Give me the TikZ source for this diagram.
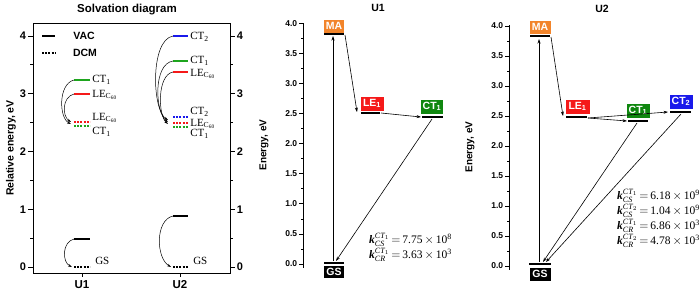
\documentclass[tikz,border=0pt]{standalone}
\usepackage{amsmath}
\usepackage{fontspec}
\setmainfont{Liberation Serif}
\setsansfont{Liberation Sans}
\usepackage{tikz}
\usetikzlibrary{arrows.meta}
\definecolor{lvgreen}{RGB}{30,165,30}
\definecolor{lvred}{RGB}{245,25,25}
\definecolor{lvblue}{RGB}{25,25,235}
\definecolor{maorange}{RGB}{242,132,42}
\definecolor{ctgreen}{RGB}{15,135,15}

\begin{document}
\begin{tikzpicture}[
    x=1pt, y=-1pt,
    lvl/.style={line width=2.6pt},
    dcm/.style={lvl, dash pattern=on 2pt off 1.2pt},
    elvl/.style={line width=2pt},
    lbl/.style={font=\fontsize{11}{11}\selectfont, text=black, anchor=west, inner sep=1pt},
    num/.style={font=\sffamily\bfseries\fontsize{11}{12}\selectfont, inner sep=1.5pt},
    snum/.style={font=\sffamily\bfseries\fontsize{8.5}{9}\selectfont, inner sep=1.5pt},
    ttl/.style={font=\sffamily\bfseries\fontsize{10.5}{12}\selectfont},
    ebox/.style={text=white, font=\sffamily\bfseries\fontsize{10.5}{11}\selectfont, inner sep=0pt, minimum height=14pt, draw=white, line width=0.3pt},
    arr/.style={-{Stealth[length=4.5pt, width=3pt]}, line width=0.6pt},
    carr/.style={-{Stealth[length=4pt, width=2.6pt]}, line width=0.5pt},
    rate/.style={font=\fontsize{11.5}{12}\selectfont, anchor=west, inner sep=0pt}
]
    \useasboundingbox (0,0) rectangle (700,297);

    % solvation panel
    \node[ttl, font=\sffamily\bfseries\fontsize{11.5}{12}\selectfont] (soltitle) at (127,10) {Solvation diagram};
    \draw[line width=0.8pt] (33,23) rectangle (230,273);
    \foreach \e in {0,...,4} {
        \draw[line width=0.8pt] (33,{267-57.75*\e}) -- ++(-5,0) node[num, anchor=east] {\e};
        \draw[line width=0.8pt] (230,{267-57.75*\e}) -- ++(5,0) node[num, anchor=west] {\e};
    }
    \foreach \e in {0.5,1.5,2.5,3.5} {
        \draw[line width=0.8pt] (33,{267-57.75*\e}) -- ++(-3,0);
        \draw[line width=0.8pt] (230,{267-57.75*\e}) -- ++(3,0);
    }
    \draw[line width=0.8pt] (82,273) -- ++(0,4) node[num, anchor=north, font=\sffamily\bfseries\fontsize{11.5}{12}\selectfont, inner sep=3pt] (u1lab) {U1};
    \draw[line width=0.8pt] (180,273) -- ++(0,4) node[num, anchor=north, font=\sffamily\bfseries\fontsize{11.5}{12}\selectfont, inner sep=3pt] (u2lab) {U2};
    \node[ttl, rotate=90] (solylab) at (11,148) {Relative energy, eV};

    % legend
    \draw[lvl] (42,36) -- (55,36);
    \node[num, font=\sffamily\bfseries\fontsize{10.5}{12}\selectfont] (vac) at (84,36) {VAC};
    \draw[dcm] (42,53) -- (55,53);
    \node[num, font=\sffamily\bfseries\fontsize{10.5}{12}\selectfont] (dcmleg) at (85,53) {DCM};

    % U1 levels
    \coordinate (u1ct) at (74,80);
    \coordinate (u1le) at (74,94);
    \coordinate (u1led) at (74,122);
    \coordinate (u1ctd) at (74,126);
    \coordinate (u1gs) at (74,239);
    \coordinate (u1gsd) at (74,267);
    \draw[lvl, lvgreen] (u1ct) -- ++(16,0) node[lbl] (u1ctl) {CT\textsubscript{1}};
    \draw[lvl, lvred] (u1le) -- ++(16,0) node[lbl, yshift=-1pt] (u1lel) {LE\textsubscript{C\textsubscript{60}}};
    \draw[dcm, lvred] (u1led) -- ++(16,0) node[lbl, yshift=4pt] (u1ledl) {LE\textsubscript{C\textsubscript{60}}};
    \draw[dcm, lvgreen] (u1ctd) -- ++(16,0) node[lbl, yshift=-6pt] (u1ctdl) {CT\textsubscript{1}};
    \draw[lvl] (u1gs) -- ++(16,0);
    \draw[dcm] (u1gsd) -- ++(16,0) node[lbl, yshift=6pt, xshift=3pt] (u1gsl) {GS};
    \draw[carr] (u1ct) .. controls (58,84) and (59,118) .. (71,124);
    \draw[carr] (u1le) .. controls (62,97) and (62,116) .. (71,122);
    \draw[carr] (u1gs) .. controls (62,242) and (62,262) .. (72,267);

    % U2 levels
    \coordinate (u2cttwo) at (173,36);
    \coordinate (u2ct) at (173,61);
    \coordinate (u2le) at (173,72);
    \coordinate (u2cttwod) at (173,117);
    \coordinate (u2led) at (173,123);
    \coordinate (u2ctd) at (173,127);
    \coordinate (u2gs) at (173,216);
    \coordinate (u2gsd) at (173,267);
    \draw[lvl, lvblue] (u2cttwo) -- ++(15,0) node[lbl, yshift=-1pt] (u2cttwol) {CT\textsubscript{2}};
    \draw[lvl, lvgreen] (u2ct) -- ++(15,0) node[lbl] (u2ctl) {CT\textsubscript{1}};
    \draw[lvl, lvred] (u2le) -- ++(15,0) node[lbl, yshift=-2pt] (u2lel) {LE\textsubscript{C\textsubscript{60}}};
    \draw[dcm, lvblue] (u2cttwod) -- ++(15,0) node[lbl, yshift=5pt] (u2cttwodl) {CT\textsubscript{2}};
    \draw[dcm, lvred] (u2led) -- ++(15,0) node[lbl, yshift=-1pt] (u2ledl) {LE\textsubscript{C\textsubscript{60}}};
    \draw[dcm, lvgreen] (u2ctd) -- ++(15,0) node[lbl, yshift=-7pt] (u2ctdl) {CT\textsubscript{1}};
    \draw[lvl] (u2gs) -- ++(15,0);
    \draw[dcm] (u2gsd) -- ++(15,0) node[lbl, yshift=6pt, xshift=3pt] (u2gsl) {GS};
    \draw[carr] (u2cttwo) .. controls (150,40) and (152,110) .. (168,120);
    \draw[carr] (u2ct) .. controls (153,64) and (155,112) .. (168,122);
    \draw[carr] (u2le) .. controls (157,75) and (158,115) .. (168,124);
    \draw[carr] (u2gs) .. controls (155,220) and (156,258) .. (171,267);

    % U1 panel
    \node[ttl] (u1title) at (378,8) {U1};
    \draw[line width=0.7pt] (303,23) -- (303,268);
    \foreach \e/\t in {0/0.0,0.5/0.5,1/1.0,1.5/1.5,2/2.0,2.5/2.5,3/3.0,3.5/3.5,4/4.0} {
        \draw[line width=0.7pt] (303,{264-60.2*\e}) -- ++(-4,0) node[snum, anchor=east] {\t};
    }
    \foreach \e in {0.25,0.75,...,3.75} {
        \draw[line width=0.6pt] (303,{264-60.2*\e}) -- ++(-2.5,0);
    }
    \node[ttl, rotate=90, font=\sffamily\bfseries\fontsize{10}{12}\selectfont] (u1ylab) at (264,145) {Energy, eV};

    \node[ebox, fill=maorange, minimum width=21pt, anchor=south] (ma1) at (334,33) {MA};
    \draw[elvl] (324,34) -- (344,34);
    \node[ebox, fill=lvred, minimum width=24pt, minimum height=15pt, anchor=south] (le1) at (372,111) {LE\textsubscript{1}};
    \draw[elvl] (361,113) -- (380,113);
    \node[ebox, fill=ctgreen, minimum width=23pt, minimum height=15pt, anchor=south] (ct1) at (432,114) {CT\textsubscript{1}};
    \draw[elvl] (422,117) -- (443,117);
    \node[ebox, fill=black, minimum width=21pt, minimum height=13pt, anchor=north] (gs1) at (334,265) {GS};
    \draw[elvl] (324,262.5) -- (344,262.5);

    \coordinate (gs1top) at (333,261);
    \coordinate (ma1bot) at (333,36);
    \coordinate (ma1end) at (345,35);
    \coordinate (le1in) at (357,112);
    \coordinate (le1out) at (381,113);
    \coordinate (ct1in) at (421,117);
    \coordinate (ct1out) at (432,119);
    \coordinate (gs1in) at (336,261);
    \draw[arr] (gs1top) -- (ma1bot);
    \draw[arr] (ma1end) -- (le1in);
    \draw[arr] (le1out) -- (ct1in);
    \draw[arr] (ct1out) -- (gs1in);

    \node[rate] (k1cs) at (369,240) {$\text{\bfseries\itshape k}^{\textit{CT}_1}_{\textit{CS}}$\,$=$\,7.75$\,\times\,$10\textsuperscript{8}};
    \node[rate] (k1cr) at (369,255) {$\text{\bfseries\itshape k}^{\textit{CT}_1}_{\textit{CR}}$\,$=$\,3.63$\,\times\,$10\textsuperscript{3}};

    % U2 panel
    \node[ttl] (u2title) at (602,9) {U2};
    \draw[line width=0.7pt] (509,25) -- (509,270);
    \foreach \e/\t in {0/0.0,0.5/0.5,1/1.0,1.5/1.5,2/2.0,2.5/2.5,3/3.0,3.5/3.5,4/4.0} {
        \draw[line width=0.7pt] (509,{266-60*\e}) -- ++(-4,0) node[snum, anchor=east] {\t};
    }
    \foreach \e in {0.25,0.75,...,3.75} {
        \draw[line width=0.6pt] (509,{266-60*\e}) -- ++(-2.5,0);
    }
    \node[ttl, rotate=90, font=\sffamily\bfseries\fontsize{10}{12}\selectfont] (u2ylab) at (470,147) {Energy, eV};

    \node[ebox, fill=maorange, minimum width=22pt, anchor=south] (ma2) at (540,34) {MA};
    \draw[elvl] (530,36) -- (550,36);
    \node[ebox, fill=lvred, minimum width=25pt, minimum height=15pt, anchor=south] (le2) at (577.5,114) {LE\textsubscript{1}};
    \draw[elvl] (566,117) -- (587,117);
    \node[ebox, fill=ctgreen, minimum width=24pt, minimum height=15pt, anchor=south] (ct12) at (638,118) {CT\textsubscript{1}};
    \draw[elvl] (628,121) -- (648,121);
    \node[ebox, fill=lvblue, minimum width=24pt, minimum height=15pt, anchor=south] (ct22) at (681,109) {CT\textsubscript{2}};
    \draw[elvl] (670,112) -- (691,112);
    \node[ebox, fill=black, minimum width=22pt, minimum height=14pt, anchor=north] (gs2) at (540,267) {GS};
    \draw[elvl] (529,264) -- (551,264);

    \coordinate (gs2top) at (539,262);
    \coordinate (ma2bot) at (539,39);
    \coordinate (ma2end) at (551,37);
    \coordinate (le2in) at (563,116);
    \coordinate (le2out) at (588,118);
    \coordinate (ct12in) at (627,121);
    \coordinate (ct22in) at (668,112);
    \coordinate (ct12out) at (637,123);
    \coordinate (ct22out) at (681,114);
    \coordinate (gs2ina) at (543,262);
    \coordinate (gs2inb) at (546,262);
    \draw[arr] (gs2top) -- (ma2bot);
    \draw[arr] (ma2end) -- (le2in);
    \draw[arr] (le2out) -- (ct12in);
    \draw[arr] (le2out) -- (ct22in);
    \draw[arr] (ct12out) -- (gs2ina);
    \draw[arr] (ct22out) -- (gs2inb);

    \node[rate] (k2csa) at (617,196) {$\text{\bfseries\itshape k}^{\textit{CT}_1}_{\textit{CS}}$\,$=$\,6.18$\,\times\,$10\textsuperscript{9}};
    \node[rate] (k2csb) at (617,211) {$\text{\bfseries\itshape k}^{\textit{CT}_2}_{\textit{CS}}$\,$=$\,1.04$\,\times\,$10\textsuperscript{9}};
    \node[rate] (k2cra) at (617,226) {$\text{\bfseries\itshape k}^{\textit{CT}_1}_{\textit{CR}}$\,$=$\,6.86$\,\times\,$10\textsuperscript{3}};
    \node[rate] (k2crb) at (617,241) {$\text{\bfseries\itshape k}^{\textit{CT}_2}_{\textit{CR}}$\,$=$\,4.78$\,\times\,$10\textsuperscript{3}};
\end{tikzpicture}
\end{document}
